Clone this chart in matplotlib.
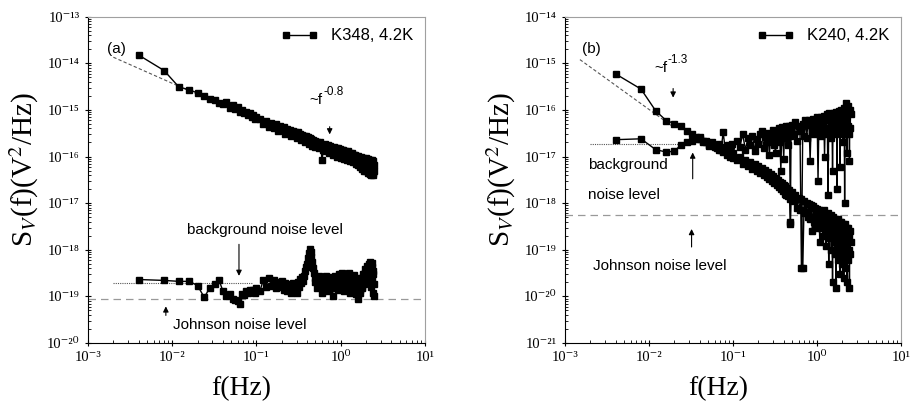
"""
Noise spectra S_V(f) for K348 and K240 at 4.2 K
two log-log panels, signal vs background noise
"""

import numpy as np
import matplotlib
matplotlib.use('Agg')
import matplotlib.pyplot as plt
from matplotlib.ticker import FuncFormatter, NullFormatter

plt.rcParams['font.family'] = ['Liberation Serif', 'DejaVu Serif']
plt.rcParams['mathtext.fontset'] = 'stix'
SANS = ['Liberation Sans', 'DejaVu Sans']

# ---- data ----
# frequency grid shared by all four curves (Hz)
freq = [0.004, 0.008, 0.012, 0.016, 0.020, 0.024, 0.028, 0.032, 0.036, 0.040,
        0.044, 0.048, 0.052, 0.056, 0.060, 0.064, 0.068, 0.072, 0.076, 0.080,
        0.084, 0.088, 0.092, 0.096, 0.100,
        0.11, 0.12, 0.13, 0.14, 0.15, 0.16, 0.17, 0.18, 0.19, 0.20,
        0.21, 0.22, 0.23, 0.24, 0.25, 0.26, 0.27, 0.28, 0.29, 0.30,
        0.31, 0.32, 0.33, 0.34, 0.35, 0.36, 0.37, 0.38, 0.39, 0.40,
        0.41, 0.42, 0.43, 0.44, 0.45, 0.46, 0.47, 0.48, 0.49, 0.50,
        0.525, 0.55, 0.575, 0.60, 0.625, 0.65, 0.675, 0.70, 0.725, 0.75,
        0.775, 0.80, 0.825, 0.85, 0.875, 0.90, 0.925, 0.95, 0.975, 1.00,
        1.025, 1.05, 1.075, 1.10, 1.125, 1.15, 1.175, 1.20, 1.225, 1.25,
        1.275, 1.30, 1.325, 1.35, 1.375, 1.40, 1.425, 1.45, 1.475, 1.50,
        1.525, 1.55, 1.575, 1.60, 1.625, 1.65, 1.675, 1.70, 1.725, 1.75,
        1.775, 1.80, 1.825, 1.85, 1.875, 1.90, 1.925, 1.95, 1.975, 2.00,
        2.025, 2.05, 2.075, 2.10, 2.125, 2.15, 2.175, 2.20, 2.225, 2.25,
        2.275, 2.30, 2.325, 2.35, 2.375, 2.40, 2.425, 2.45, 2.475, 2.50]

# K348 signal, units of 1e-16 V^2/Hz
k348_signal = [150, 70, 31, 27, 23, 20, 17, 16.5, 14, 13.5,
               15, 11, 13, 10.5, 11.5, 9, 10, 8.5, 9.2, 7.6,
               8.4, 7, 7.8, 6.4, 7.2,
               6.5, 5.0, 5.8, 4.4, 5.2, 4.0, 4.9, 3.6, 4.5, 3.8,
               4.2, 3.1, 3.9, 3.3, 3.7, 2.8, 3.6, 3.0, 3.4, 2.5,
               3.3, 2.7, 3.1, 2.3, 2.9, 2.5, 2.8, 2.1, 2.7, 2.2,
               2.6, 1.9, 2.5, 2.0, 2.4, 1.7, 2.3, 1.8, 2.2, 1.6,
               2.1, 1.5, 2.0, 0.85, 1.4, 1.9, 1.3, 1.8, 1.2, 1.7,
               1.4, 1.1, 1.6, 1.2, 1.55, 1.0, 1.5, 1.15, 1.45, 0.95,
               1.4, 1.05, 1.35, 0.9, 1.3, 1.0, 1.25, 0.85, 1.3, 0.95,
               1.2, 0.8, 1.15, 0.9, 1.2, 0.75, 1.1, 0.85, 1.1, 0.7,
               1.05, 0.8, 1.0, 0.65, 1.05, 0.75, 0.95, 0.6, 1.0, 0.7,
               0.9, 0.55, 0.95, 0.65, 0.85, 0.5, 0.9, 0.6, 0.8, 0.5,
               0.95, 0.55, 0.8, 0.45, 0.9, 0.5, 0.75, 0.42, 0.85, 0.5,
               0.7, 0.4, 0.85, 0.45, 0.7, 0.4, 0.8, 0.45, 0.65, 0.5]

# K348 background, units of 1e-19 V^2/Hz
k348_background = [2.3, 2.2, 2.1, 2.1, 1.7, 0.95, 1.55, 1.8, 2.2, 1.3,
                   1.0, 1.1, 0.9, 0.85, 0.8, 0.7, 1.1, 1.05, 1.3, 1.2,
                   1.35, 1.25, 1.4, 1.2, 1.5,
                   1.3, 2.2, 1.6, 2.5, 1.7, 2.2, 1.5, 2.0, 1.6, 2.1,
                   1.4, 1.9, 1.3, 1.8, 1.5, 1.2, 1.9, 1.4, 1.7, 1.2,
                   2.0, 1.6, 2.4, 1.9, 2.6, 2.1, 2.8, 3.5, 4.2, 5.0,
                   6.5, 8.5, 10.5, 9.0, 7.0, 5.5, 4.0, 3.2, 2.5, 2.0,
                   1.5, 2.8, 1.8, 1.2, 2.5, 1.6, 2.7, 1.3, 2.2, 1.7,
                   2.6, 1.0, 2.0, 2.7, 1.5, 2.4, 1.4, 3.0, 1.9, 2.5,
                   1.6, 3.2, 2.0, 1.3, 2.6, 1.8, 2.8, 1.5, 2.3, 3.1,
                   1.7, 1.2, 2.4, 1.9, 2.6, 1.4, 2.2, 2.9, 1.6, 1.1,
                   2.1, 2.5, 1.5, 0.9, 1.8, 2.3, 1.4, 1.2, 2.0, 2.4,
                   1.6, 1.5, 2.6, 3.0, 2.0, 1.8, 3.2, 3.8, 2.5, 2.2,
                   3.5, 4.5, 3.0, 2.5, 4.0, 5.0, 3.2, 2.0, 4.5, 5.5,
                   3.0, 1.6, 4.2, 5.2, 2.5, 1.2, 3.0, 3.5, 1.8, 1.0]

# K240 signal, units of 1e-18 V^2/Hz
k240_signal = [590, 280, 95, 59, 51, 46, 36, 30, 26, 24,
               21, 22, 18, 19, 16, 17, 14, 15, 12.5, 13.5,
               11, 12, 10, 11, 9.5,
               8.5, 10, 7.0, 8.5, 6.2, 7.8, 5.5, 7.0, 5.0, 6.2,
               4.4, 5.6, 4.0, 5.2, 3.6, 4.6, 3.3, 4.2, 3.0, 3.8,
               2.7, 3.5, 2.5, 3.2, 2.2, 2.9, 2.0, 2.7, 1.8, 2.5,
               1.6, 2.3, 1.5, 2.1, 1.4, 1.9, 1.2, 0.35, 1.3, 1.7,
               1.1, 1.5, 0.8, 1.3, 0.7, 1.2, 0.04, 1.1, 0.6, 1.0,
               0.5, 0.95, 0.45, 0.9, 0.25, 0.85, 0.4, 0.8, 0.3, 0.75,
               0.35, 0.7, 0.15, 0.65, 0.3, 0.6, 0.2, 0.7, 0.25, 0.55,
               0.12, 0.5, 0.2, 0.6, 0.05, 0.45, 0.18, 0.55, 0.1, 0.4,
               0.02, 0.5, 0.15, 0.4, 0.08, 0.45, 0.015, 0.35, 0.12, 0.45,
               0.06, 0.35, 0.1, 0.4, 0.03, 0.3, 0.12, 0.4, 0.05, 0.3,
               0.1, 0.35, 0.025, 0.3, 0.08, 0.35, 0.04, 0.25, 0.1, 0.3,
               0.02, 0.25, 0.06, 0.3, 0.1, 0.2, 0.015, 0.25, 0.08, 0.15]

# K240 background, units of 1e-18 V^2/Hz
k240_background = [23, 24, 14, 12.5, 13, 18, 20, 22, 24, 26,
                   22, 20, 17, 21, 18, 15, 19, 14, 33, 16,
                   13, 18, 15, 19, 12,
                   22, 16, 30, 14, 25, 18, 28, 13, 24, 19,
                   30, 35, 15, 26, 20, 32, 11, 28, 22, 38,
                   18, 12, 34, 25, 40, 20, 5, 42, 28, 9,
                   38, 25, 45, 30, 18, 45, 28, 0.4, 40, 48,
                   30, 55, 22, 45, 35, 0.04, 50, 28, 60, 25,
                   48, 60, 8, 52, 35, 65, 30, 55, 40, 70,
                   3, 60, 38, 72, 28, 58, 45, 75, 10, 62,
                   40, 80, 30, 1.5, 65, 85, 35, 70, 25, 78,
                   5, 68, 42, 88, 30, 72, 50, 90, 2, 75,
                   40, 95, 35, 80, 6, 85, 45, 100, 30, 90,
                   20, 95, 50, 110, 1, 85, 40, 140, 55, 100,
                   12, 95, 45, 120, 30, 90, 8, 100, 40, 80]

# reference levels
k348_johnson = 9e-20
k348_bg_level = 1.9e-19
k240_johnson = 5.5e-19
k240_bg_level = 1.9e-17

# power-law guides: (f_start, f_end, S at f_start, exponent)
k348_fit = (0.002, 0.03, 1.35e-14, -0.8)
k240_fit = (0.0015, 0.02, 1.2e-15, -1.3)

freq = np.array(freq)

SUP = str.maketrans('-0123456789', '\u207b\u2070\u00b9\u00b2\u00b3\u2074\u2075\u2076\u2077\u2078\u2079')


def decade_label(v, pos):
    e = int(round(np.log10(v)))
    return '10' + str(e).translate(SUP)


def style_axes(ax, ylim):
    ax.set_xscale('log')
    ax.set_yscale('log')
    ax.set_xlim(1e-3, 1e1)
    ax.set_ylim(*ylim)
    for axis in [ax.xaxis, ax.yaxis]:
        axis.set_major_formatter(FuncFormatter(decade_label))
        axis.set_minor_formatter(NullFormatter())
    for side in ['top', 'right']:
        ax.spines[side].set_color('#a0a0a0')
    ax.tick_params(which='major', direction='inout', length=5, width=0.8,
                   labelsize=10.5, top=False, right=False)
    ax.tick_params(which='minor', direction='in', length=2.5, width=0.6,
                   top=False, right=False)
    ax.set_xlabel('f(Hz)', fontsize=20)
    ax.xaxis.set_label_coords(0.456, -0.10)
    ax.set_ylabel(r'S$_V$(f)(V$^2$/Hz)', fontsize=21)
    ax.yaxis.set_label_coords(-0.14, 0.53)


def fit_line(ax, fit):
    f0, f1, s0, p = fit
    ff = np.array([f0, f1])
    ax.plot(ff, s0 * (ff / f0) ** p, color='#555555', lw=0.8, ls=(0, (3, 2)))


def arrow(ax, x, y_tail, y_tip):
    ax.annotate('', xy=(x, y_tip), xytext=(x, y_tail),
                arrowprops=dict(arrowstyle='-|>', color='black', lw=0.8,
                                mutation_scale=8))


def label(ax, x, y, s, **kw):
    kw.setdefault('fontsize', 11)
    kw.setdefault('va', 'center')
    ax.text(x, y, s, family=SANS, **kw)


def power_label(ax, x, y, y_sup, expo):
    # "~f" with a raised exponent
    label(ax, x, y, '~f', ha='right')
    label(ax, x * 1.02, y_sup, expo, ha='left', fontsize=8.5)


fig = plt.figure(figsize=(9.13, 4.12), dpi=100)
ax1 = fig.add_axes([0.0964, 0.1675, 0.369, 0.792])
ax2 = fig.add_axes([0.619, 0.1675, 0.368, 0.792])

mk = dict(color='black', marker='s', markersize=4, lw=1.0)
leg = dict(loc='upper right', frameon=False, numpoints=2, handlelength=2.2,
           borderaxespad=0.3, prop={'family': SANS, 'size': 12})

# ---- panel (a) ----
ax1.axhline(k348_johnson, color='#999999', lw=0.9, ls=(0, (6, 4)))
ax1.plot([0.002, 0.09], [k348_bg_level, k348_bg_level], color='#555555',
         lw=0.8, ls=(0, (1, 1)))
fit_line(ax1, k348_fit)
ax1.plot(freq, np.array(k348_signal) * 1e-16, label='K348, 4.2K', **mk)
ax1.plot(freq, np.array(k348_background) * 1e-19, **mk)
style_axes(ax1, (1e-20, 1e-13))

label(ax1, 0.055, 0.90, '(a)', transform=ax1.transAxes)
power_label(ax1, 0.615, 1.65e-15, 2.4e-15, '-0.8')
arrow(ax1, 0.74, 5.0e-16, 2.6e-16)
label(ax1, 0.126, 2.7e-18, 'background noise level', ha='center')
arrow(ax1, 0.062, 1.5e-18, 2.4e-19)
label(ax1, 0.0102, 2.4e-20, 'Johnson noise level', ha='left')
arrow(ax1, 0.0084, 3.4e-20, 7e-20)
ax1.legend(**leg)

# ---- panel (b) ----
ax2.axhline(k240_johnson, color='#999999', lw=0.9, ls=(0, (6, 4)))
ax2.plot([0.002, 0.023], [k240_bg_level, k240_bg_level], color='#555555',
         lw=0.8, ls=(0, (1, 1)))
fit_line(ax2, k240_fit)
ax2.plot(freq, np.array(k240_signal) * 1e-18, label='K240, 4.2K', **mk)
ax2.plot(freq, np.array(k240_background) * 1e-18, **mk)
style_axes(ax2, (1e-21, 1e-14))

label(ax2, 0.05, 0.90, '(b)', transform=ax2.transAxes)
power_label(ax2, 0.0164, 7.9e-16, 1.2e-15, '-1.3')
arrow(ax2, 0.0193, 3.3e-16, 1.6e-16)
label(ax2, 0.00188, 6.6e-18, 'background', ha='left')
label(ax2, 0.00188, 1.5e-18, 'noise level', ha='left')
arrow(ax2, 0.033, 2.9e-18, 1.4e-17)
label(ax2, 0.00215, 4.5e-20, 'Johnson noise level', ha='left')
arrow(ax2, 0.032, 1.0e-19, 3.2e-19)
ax2.legend(**leg)

fig.savefig('out.png', dpi=100)
